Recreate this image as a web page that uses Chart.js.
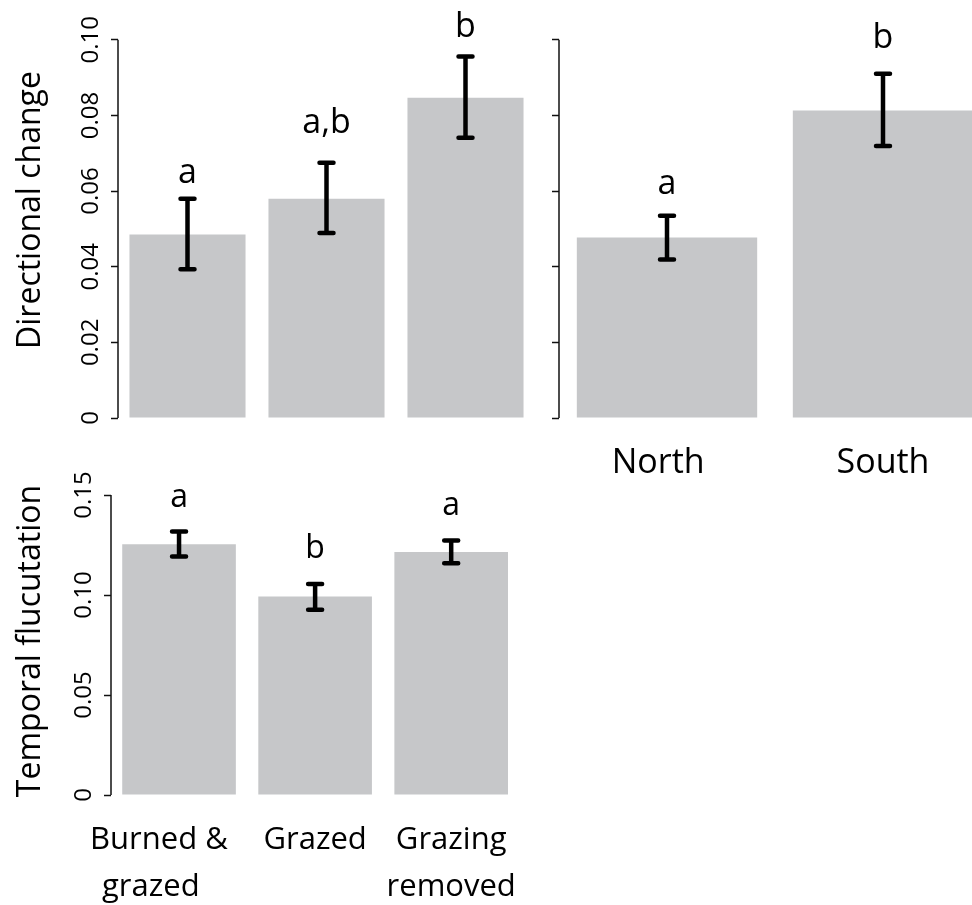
<!DOCTYPE html>
<html>
<head>
<meta charset="utf-8">
<script src="https://cdn.jsdelivr.net/npm/chart.js@4.4.1/dist/chart.umd.min.js"></script>
<style>
  html, body { margin: 0; padding: 0; background: #fff; overflow: hidden; }
  #page { position: relative; width: 972px; height: 905px; overflow: hidden; }
  canvas { position: absolute; }
</style>
</head>
<body>
<div id="page">
  <canvas id="dirTreat" width="540" height="440" style="left:0;top:0"></canvas>
  <canvas id="dirRegion" width="451" height="490" style="left:540px;top:0"></canvas>
  <canvas id="tempTreat" width="540" height="445" style="left:0;top:460px"></canvas>
</div>
<script>
// directional change by treatment (top left)
const treatments = ['Burned & grazed', 'Grazed', 'Grazing removed'];
const dirMeans = [0.0485, 0.0580, 0.0847];
const dirLower = [0.0393, 0.0489, 0.0741];
const dirUpper = [0.0580, 0.0675, 0.0956];
const dirLetters = ['a', 'a,b', 'b'];
const dirLetterAt = [0.0622, 0.0753, 0.1007];
const dirTicks = [0, 0.02, 0.04, 0.06, 0.08, 0.10];

// directional change by region (top right)
const regions = ['North  ', 'South'];
const regMeans = [0.0477, 0.0813];
const regLower = [0.0419, 0.0719];
const regUpper = [0.0535, 0.0910];
const regLetters = ['a', 'b'];
const regLetterAt = [0.0593, 0.0979];

// temporal fluctuation by treatment (bottom left)
const treatLabels = [['Burned &     ', 'grazed       '], 'Grazed', ['Grazing', 'removed']];
const tempMeans = [0.1254, 0.0992, 0.1215];
const tempLower = [0.1192, 0.0926, 0.1159];
const tempUpper = [0.1317, 0.1055, 0.1272];
const tempLetters = ['a', 'b', 'a'];
const tempLetterAt = [0.1442, 0.1184, 0.1400];
const tempTicks = [0, 0.05, 0.10, 0.15];

Chart.defaults.font.family = "'Open Sans', sans-serif";
Chart.defaults.color = '#000';

// error bars, significance letters and the y axis line (only over the tick range)
const annotate = {
    id: 'annotate',
    afterDatasetsDraw(chart, args, opts) {
        const { ctx } = chart;
        const x = chart.scales.x;
        const y = chart.scales.y;

        ctx.save();
        ctx.strokeStyle = '#111';
        ctx.lineWidth = 1.5;
        ctx.beginPath();
        ctx.moveTo(y.right, y.getPixelForValue(y.ticks[0].value));
        ctx.lineTo(y.right, y.getPixelForValue(y.ticks[y.ticks.length - 1].value));
        ctx.stroke();

        ctx.strokeStyle = '#000';
        ctx.lineWidth = 4.5;
        opts.lower.forEach((lo, i) => {
            const cx = x.getPixelForValue(i);
            const y1 = y.getPixelForValue(lo);
            const y2 = y.getPixelForValue(opts.upper[i]);
            ctx.lineCap = 'butt';
            ctx.beginPath();
            ctx.moveTo(cx, y1);
            ctx.lineTo(cx, y2);
            ctx.stroke();
            ctx.lineCap = 'round';
            ctx.beginPath();
            ctx.moveTo(cx - 7, y1); ctx.lineTo(cx + 7, y1);
            ctx.moveTo(cx - 7, y2); ctx.lineTo(cx + 7, y2);
            ctx.stroke();
        });

        ctx.fillStyle = '#000';
        ctx.font = opts.font;
        ctx.textAlign = 'center';
        ctx.textBaseline = 'alphabetic';
        opts.letters.forEach((t, i) => {
            ctx.fillText(t, x.getPixelForValue(i), y.getPixelForValue(opts.letterAt[i]));
        });
        ctx.restore();
    }
};

function panel(id, cfg) {
    return new Chart(document.getElementById(id), {
        type: 'bar',
        data: {
            labels: cfg.labels,
            datasets: [{
                data: cfg.means,
                backgroundColor: '#c6c7c9',
                borderWidth: 0,
                barPercentage: 0.835,
                categoryPercentage: 1
            }]
        },
        options: {
            responsive: false,
            animation: false,
            layout: { padding: cfg.padding },
            plugins: {
                legend: { display: false },
                tooltip: { enabled: false },
                annotate: {
                    lower: cfg.lower,
                    upper: cfg.upper,
                    letters: cfg.letters,
                    letterAt: cfg.letterAt,
                    font: cfg.letterFont
                }
            },
            scales: {
                x: {
                    grid: { display: false, drawTicks: false },
                    border: { display: false },
                    ticks: {
                        display: cfg.showX,
                        color: '#000',
                        font: { size: cfg.xFontSize, lineHeight: cfg.xLineHeight },
                        padding: cfg.xPad,
                        maxRotation: 0,
                        autoSkip: false
                    },
                    afterFit: s => { s.height = cfg.xHeight; }
                },
                y: {
                    min: 0,
                    max: cfg.yMax,
                    afterBuildTicks: s => { s.ticks = cfg.ticks.map(v => ({ value: v })); },
                    grid: {
                        display: true,
                        drawOnChartArea: false,
                        drawTicks: true,
                        tickLength: 7,
                        tickColor: '#111',
                        tickWidth: 1.5
                    },
                    border: { display: false },
                    ticks: {
                        display: cfg.showY,
                        minRotation: 90,
                        maxRotation: 90,
                        crossAlign: 'center',
                        padding: -4,
                        color: '#000',
                        font: { size: 24 },
                        autoSkip: false,
                        callback: v => v === 0 ? '0' : v.toFixed(2)
                    },
                    title: {
                        display: !!cfg.title,
                        text: cfg.title || '',
                        color: '#000',
                        font: { size: 32 },
                        padding: { top: 12, bottom: 0 }
                    },
                    afterFit: s => {
                        s.width = cfg.yWidth;
                        s.paddingTop = 0;
                        s.paddingBottom = 0;
                    }
                }
            }
        },
        plugins: [annotate]
    });
}

panel('dirTreat', {
    labels: treatments, means: dirMeans, lower: dirLower, upper: dirUpper,
    letters: dirLetters, letterAt: dirLetterAt, letterFont: "34px 'Open Sans'",
    ticks: dirTicks, yMax: 0.11, showY: true, title: 'Directional change',
    showX: false, xFontSize: 30, xLineHeight: 1.2, xPad: 0, xHeight: 22,
    yWidth: 118, padding: { top: 2, right: 5, left: 0, bottom: 0 }
});

panel('dirRegion', {
    labels: regions, means: regMeans, lower: regLower, upper: regUpper,
    letters: regLetters, letterAt: regLetterAt, letterFont: "34px 'Open Sans'",
    ticks: dirTicks, yMax: 0.11, showY: false, title: '',
    showX: true, xFontSize: 34, xLineHeight: 1.2, xPad: 25, xHeight: 72,
    yWidth: 19, padding: { top: 2, right: 0, left: 0, bottom: 0 }
});

panel('tempTreat', {
    labels: treatLabels, means: tempMeans, lower: tempLower, upper: tempUpper,
    letters: tempLetters, letterAt: tempLetterAt, letterFont: "32px 'Open Sans'",
    ticks: tempTicks, yMax: 0.154, showY: true, title: 'Temporal flucutation',
    showX: true, xFontSize: 31, xLineHeight: 1.5, xPad: 22, xHeight: 110,
    yWidth: 111, padding: { top: 27, right: 13, left: 0, bottom: 0 }
});
</script>
</body>
</html>
